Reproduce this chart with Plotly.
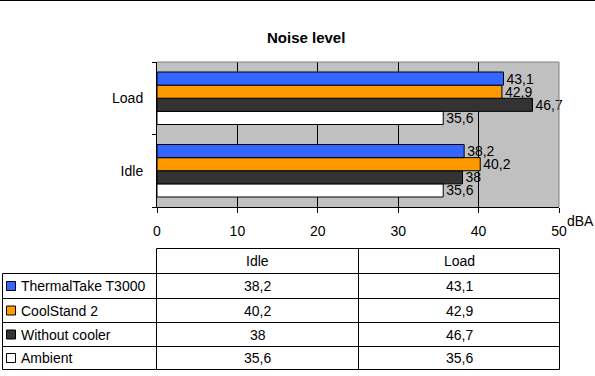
import plotly.graph_objects as go

# ---- data ----
categories = ["Idle", "Load"]
series_names = ["ThermalTake T3000", "CoolStand 2", "Without cooler", "Ambient"]
thermaltake = [38.2, 43.1]
coolstand = [40.2, 42.9]
without_cooler = [38.0, 46.7]
ambient = [35.6, 35.6]
x_ticks = [0, 10, 20, 30, 40, 50]
title_text = "Noise level"
unit_text = "dBA"

series_values = [thermaltake, coolstand, without_cooler, ambient]
colors = ["#3366FF", "#FF9900", "#333333", "#FFFFFF"]

FONT = "Liberation Sans, Arial, sans-serif"
W, H = 595, 376
ML, MR, MT, MB = 157, 36, 62, 169
PW = W - ML - MR
PH = H - MT - MB


def fmt(v):
    s = ("%g" % v)
    return s.replace(".", ",")


def px(x):
    return (x - ML) / PW


def py(y):
    return (H - MB - y) / PH


fig = go.Figure()
# add in reverse so first series sits on top of each group
for name, vals, col in reversed(list(zip(series_names, series_values, colors))):
    fig.add_trace(go.Bar(
        y=categories, x=vals, name=name, orientation="h",
        marker=dict(color=col, line=dict(color="black", width=1)),
        text=[fmt(v) for v in vals], textposition="outside",
        textfont=dict(family=FONT, size=14, color="black"),
        constraintext="none", cliponaxis=False, showlegend=False,
    ))

shapes = []
ann = []

# top border line of page
shapes.append(dict(type="line", xref="paper", yref="paper",
                   x0=px(0), x1=px(W), y0=py(0.5), y1=py(0.5),
                   line=dict(color="black", width=1)))
# gray top & right plot border
shapes.append(dict(type="line", xref="paper", yref="paper", x0=0, x1=1, y0=1, y1=1,
                   line=dict(color="#808080", width=1), layer="above"))
shapes.append(dict(type="line", xref="paper", yref="paper", x0=1, x1=1, y0=0, y1=1,
                   line=dict(color="#808080", width=1), layer="above"))

# ---- data table ----
tbl_left = 2.5
col_x = [156.5, 358.5, 559.5]
row_y = [248.5, 273.5, 298.5, 322.5, 346.5, 369.5]


def hline(x0, x1, y):
    shapes.append(dict(type="line", xref="paper", yref="paper",
                       x0=px(x0), x1=px(x1), y0=py(y), y1=py(y),
                       line=dict(color="black", width=1)))


def vline(x, y0, y1):
    shapes.append(dict(type="line", xref="paper", yref="paper",
                       x0=px(x), x1=px(x), y0=py(y0), y1=py(y1),
                       line=dict(color="black", width=1)))


hline(col_x[0], col_x[2], row_y[0])
for y in row_y[1:]:
    hline(tbl_left, col_x[2], y)
for x in col_x:
    vline(x, row_y[0], row_y[-1])
vline(tbl_left, row_y[1], row_y[-1])

# header
for j, cat in enumerate(categories):
    ann.append(dict(xref="paper", yref="paper", x=px((col_x[j] + col_x[j + 1]) / 2),
                    y=py((row_y[0] + row_y[1]) / 2), text=cat, showarrow=False,
                    font=dict(family=FONT, size=14, color="black"),
                    xanchor="center", yanchor="middle"))
# rows
for i, (name, vals, col) in enumerate(zip(series_names, series_values, colors)):
    yc = (row_y[i + 1] + row_y[i + 2]) / 2
    shapes.append(dict(type="rect", xref="paper", yref="paper",
                       x0=px(6.5), x1=px(15.5), y0=py(yc - 4.5), y1=py(yc + 4.5),
                       fillcolor=col, line=dict(color="black", width=1)))
    ann.append(dict(xref="paper", yref="paper", x=px(19), y=py(yc), text=name,
                    showarrow=False, font=dict(family=FONT, size=14, color="black"),
                    xanchor="left", yanchor="middle"))
    for j, v in enumerate(vals):
        ann.append(dict(xref="paper", yref="paper", x=px((col_x[j] + col_x[j + 1]) / 2),
                        y=py(yc), text=fmt(v), showarrow=False,
                        font=dict(family=FONT, size=14, color="black"),
                        xanchor="center", yanchor="middle"))

# title & unit
ann.append(dict(xref="paper", yref="paper", x=px(306), y=py(37.5), text="<b>%s</b>" % title_text,
                showarrow=False, font=dict(family=FONT, size=15, color="black"),
                xanchor="center", yanchor="middle"))
ann.append(dict(xref="paper", yref="paper", x=px(565), y=py(221), text=unit_text,
                showarrow=False, font=dict(family=FONT, size=14, color="black"),
                xanchor="left", yanchor="middle"))

fig.update_layout(
    width=W, height=H,
    margin=dict(l=ML, r=MR, t=MT, b=MB, pad=0),
    paper_bgcolor="white", plot_bgcolor="#C0C0C0",
    barmode="group", bargap=0.276, bargroupgap=0,
    font=dict(family=FONT, size=14, color="black"),
    shapes=shapes, annotations=ann,
    xaxis=dict(range=[0, 50], tickvals=x_ticks, ticktext=[str(t) for t in x_ticks],
               showgrid=True, gridcolor="black", gridwidth=1, zeroline=False,
               showline=True, linecolor="black", linewidth=1,
               ticks="outside", ticklen=5, tickcolor="black",
               ticklabelstandoff=6, tickfont=dict(family=FONT, size=14, color="black")),
    yaxis=dict(type="category", categoryorder="array", categoryarray=categories,
               showgrid=False, zeroline=False, showline=True, linecolor="black", linewidth=1,
               ticks="outside", ticklen=4, tickcolor="black", tickson="boundaries",
               ticklabelstandoff=10, tickfont=dict(family=FONT, size=14, color="black")),
)

fig.write_html("out.html", config={"displayModeBar": False},
               post_script="document.body.style.margin='0';document.body.style.overflow='hidden';")
